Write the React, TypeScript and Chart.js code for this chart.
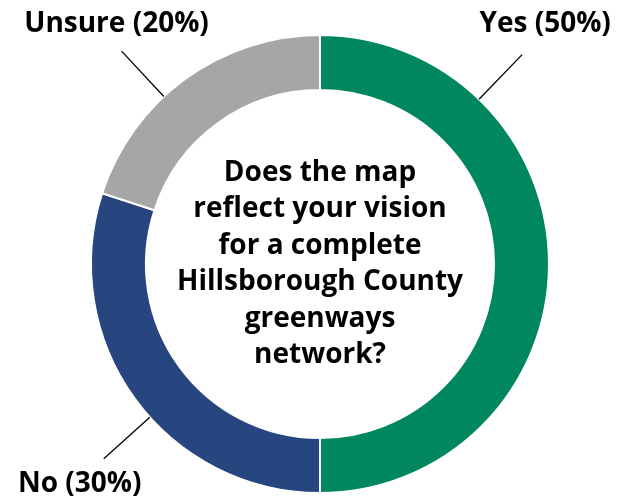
import React, { useEffect, useRef } from "react";
import { Chart, registerables } from "chart.js";

Chart.register(...registerables);

const categories = ["Yes", "No", "Unsure"];
const values = [50, 30, 20];
const labelTexts = ["Yes (50%)", "No (30%)", "Unsure (20%)"];
const colors = ["#00875F", "#27467F", "#A6A6A6"];
const centerLines = [
  "Does the map",
  "reflect your vision",
  "for a complete",
  "Hillsborough County",
  "greenways",
  "network?",
];
// label anchor angle (degrees clockwise from top) and text offset from line end
const anchorAngles = [44, 228, 317];
const textOffsets = [
  [23, -31],
  [-24, 25],
  [-5, -27],
];

const FONT = '"Open Sans", "DejaVu Sans", sans-serif';

const labelPlugin = {
  id: "outLabels",
  afterDatasetsDraw(chart: any) {
    const ctx = chart.ctx;
    const meta = chart.getDatasetMeta(0);
    const arc0 = meta.data[0];
    if (!arc0) return;
    const cx = arc0.x;
    const cy = arc0.y;
    const R = arc0.outerRadius;
    ctx.save();
    meta.data.forEach((_: any, i: number) => {
      const a = (anchorAngles[i] * Math.PI) / 180;
      const dx = Math.sin(a);
      const dy = -Math.cos(a);
      const x1 = cx + dx * R;
      const y1 = cy + dy * R;
      const x2 = cx + dx * (R + 62);
      const y2 = cy + dy * (R + 62);
      ctx.strokeStyle = "#000";
      ctx.lineWidth = 1.3;
      ctx.beginPath();
      ctx.moveTo(x1, y1);
      ctx.lineTo(x2, y2);
      ctx.stroke();
      ctx.fillStyle = "#000";
      ctx.font = `700 28px ${FONT}`;
      ctx.textAlign = "center";
      ctx.textBaseline = "middle";
      ctx.fillText(labelTexts[i], x2 + textOffsets[i][0], y2 + textOffsets[i][1]);
    });
    ctx.font = `700 28px ${FONT}`;
    ctx.textAlign = "center";
    ctx.textBaseline = "middle";
    ctx.fillStyle = "#000";
    const lh = 36.4;
    const n = centerLines.length;
    centerLines.forEach((t, i) => {
      ctx.fillText(t, cx, cy + (i - (n - 1) / 2) * lh);
    });
    ctx.restore();
  },
};

export default function App() {
  const ref = useRef<HTMLCanvasElement>(null);
  useEffect(() => {
    if (!ref.current) return;
    const chart = new Chart(ref.current, {
      type: "doughnut",
      data: {
        labels: categories,
        datasets: [
          {
            data: values,
            backgroundColor: colors,
            borderColor: "#ffffff",
            borderWidth: 2,
          },
        ],
      },
      options: {
        responsive: false,
        animation: false,
        cutout: "76%",
        layout: { padding: { top: 34, bottom: 8, left: 90, right: 87 } },
        plugins: {
          legend: { display: false },
          tooltip: { enabled: false },
        },
      },
      plugins: [labelPlugin],
    });
    return () => chart.destroy();
  }, []);
  return (
    <div style={{ position: "absolute", left: 0, top: 0, width: 637, height: 502, background: "#fff" }}>
      <canvas ref={ref} width={637} height={502} />
    </div>
  );
}
